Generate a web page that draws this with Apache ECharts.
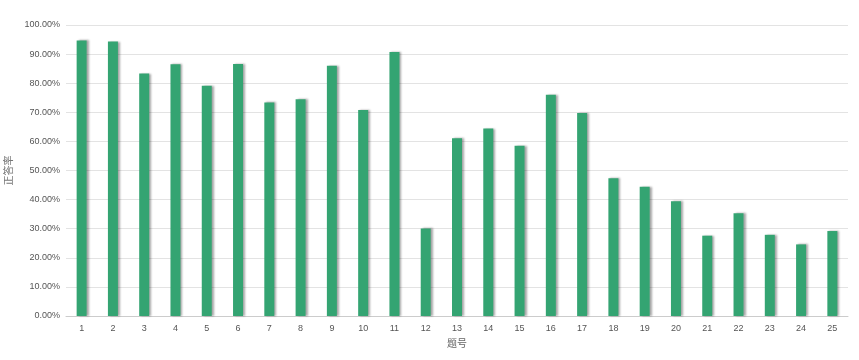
<!DOCTYPE html>
<html><head><meta charset="utf-8">
<script src="https://cdn.jsdelivr.net/npm/echarts@6/dist/echarts.min.js"></script>
<style>html,body{margin:0;padding:0;background:#fff}#c{width:859px;height:360px}</style>
</head><body><div id="c"></div>
<script>
const categories = ['1','2','3','4','5','6','7','8','9','10','11','12','13','14','15','16','17','18','19','20','21','22','23','24','25'];
const rates = [94.7,94.3,83.3,86.5,79.1,86.6,73.4,74.5,86.0,70.8,90.7,30.1,61.1,64.4,58.5,76.0,69.8,47.3,44.4,39.4,27.6,35.3,27.9,24.6,29.2];
const yTicks = {min:0, max:100, interval:10};
const chart = echarts.init(document.getElementById('c'));
chart.setOption({
  animation:false,
  grid:{left:66,right:11,top:25,bottom:44,outerBoundsMode:'none',containLabel:false},
  xAxis:{type:'category',data:categories,name:'题号',nameLocation:'middle',nameGap:22,
    nameTextStyle:{color:'#666',fontSize:10,fontFamily:'Noto Sans CJK SC'},
    axisLine:{lineStyle:{color:'#ccc'}},axisTick:{show:false},
    axisLabel:{color:'#555',fontSize:9,fontFamily:'Liberation Sans',margin:8}},
  yAxis:{type:'value',min:yTicks.min,max:yTicks.max,interval:yTicks.interval,name:'正答率',nameLocation:'middle',nameGap:49,
    nameTextStyle:{color:'#777',fontSize:10,fontFamily:'Noto Sans CJK SC'},
    axisLine:{show:false},axisTick:{show:false},
    splitLine:{lineStyle:{color:'#e3e3e3'}},
    axisLabel:{color:'#555',fontSize:9,fontFamily:'Liberation Sans',margin:6,formatter:v=>v.toFixed(2)+'%'}},
  series:[{type:'bar',data:rates,barWidth:10,
    itemStyle:{color:'#34a472',shadowColor:'rgba(0,0,0,0.35)',shadowBlur:2,shadowOffsetX:2,shadowOffsetY:0}}]
});
</script></body></html>
